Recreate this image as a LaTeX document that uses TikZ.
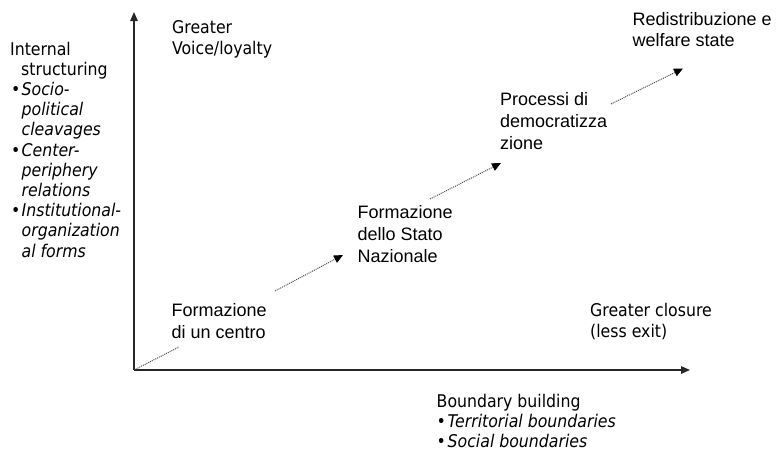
\documentclass[tikz,border=0pt]{standalone}
\usepackage{fontspec}
\setmainfont{Liberation Sans}
\newfontfamily\vfont{DejaVu Sans Condensed}
\usetikzlibrary{arrows.meta}
\begin{document}
\begin{tikzpicture}[x=1pt,y=-1pt,
  axis/.style={line width=1.3pt, draw=black!85, -{Triangle[length=9pt,width=7.5pt]}},
  flow/.style={densely dotted, line width=1pt, draw=black!70, -{Triangle[length=9pt,width=8pt,color=black]}},
  flowplain/.style={densely dotted, line width=1pt, draw=black!70},
  lab/.style={anchor=base west, inner sep=0pt},
  ]
\useasboundingbox (0,0) rectangle (778,455);

% axes
\coordinate (o) at (134,370);
\coordinate (ytop) at (134,12);
\coordinate (xend) at (690,370);
\draw[axis] (o) -- (ytop);
\draw[axis] (o) -- (xend);

% axis labels
\node[lab] (il) at (10,55) {\parbox[t]{125pt}{\vfont\fontsize{17.5}{20.2}\selectfont
Internal\\
\hspace*{11pt}structuring\\
\makebox[11.5pt][l]{\hspace{1pt}•}\textit{Socio-}\\
\hspace*{11.5pt}\textit{political}\\
\hspace*{11.5pt}\textit{cleavages}\\
\makebox[11.5pt][l]{\hspace{1pt}•}\textit{Center-}\\
\hspace*{11.5pt}\textit{periphery}\\
\hspace*{11.5pt}\textit{relations}\\
\makebox[11.5pt][l]{\hspace{1pt}•}\textit{Institutional-}\\
\hspace*{11.5pt}\textit{organization}\\
\hspace*{11.5pt}\textit{al forms}}};

\node[lab] (gv) at (172,33) {\parbox[t]{150pt}{\vfont\fontsize{17.5}{21.5}\selectfont
Greater\\Voice/loyalty}};

\node[lab] (gc) at (590,316) {\parbox[t]{170pt}{\vfont\fontsize{17.5}{21.5}\selectfont
Greater closure\\(less exit)}};

\node[lab] (bb) at (436.5,407) {\parbox[t]{250pt}{\vfont\fontsize{17.5}{20.2}\selectfont
Boundary building\\
\makebox[11pt][l]{•}\textit{Territorial boundaries}\\
\makebox[11pt][l]{•}\textit{Social boundaries}}};

% stages
\node[lab] (c1) at (171.5,316) {\parbox[t]{120pt}{\fontsize{18}{22}\selectfont
Formazione\\di un centro}};
\node[lab] (c2) at (357.5,218) {\parbox[t]{120pt}{\fontsize{18}{22}\selectfont
Formazione\\dello Stato\\Nazionale}};
\node[lab] (c3) at (500,105) {\parbox[t]{130pt}{\fontsize{18}{22}\selectfont
Processi di\\democratizza\\zione}};
\node[lab] (c4) at (632.5,25) {\parbox[t]{150pt}{\fontsize{18}{21.5}\selectfont
Redistribuzione e\\welfare state}};

% connectors
\coordinate (a1e) at (179,347);
\coordinate (a2s) at (275,291);
\coordinate (a2e) at (343,255);
\coordinate (a3s) at (430,199);
\coordinate (a3e) at (501,163);
\coordinate (a4s) at (611,104);
\coordinate (a4e) at (683,68.5);
\draw[flowplain] (o) -- (a1e);
\draw[flow] (a2s) -- (a2e);
\draw[flow] (a3s) -- (a3e);
\draw[flow] (a4s) -- (a4e);
\end{tikzpicture}
\end{document}
